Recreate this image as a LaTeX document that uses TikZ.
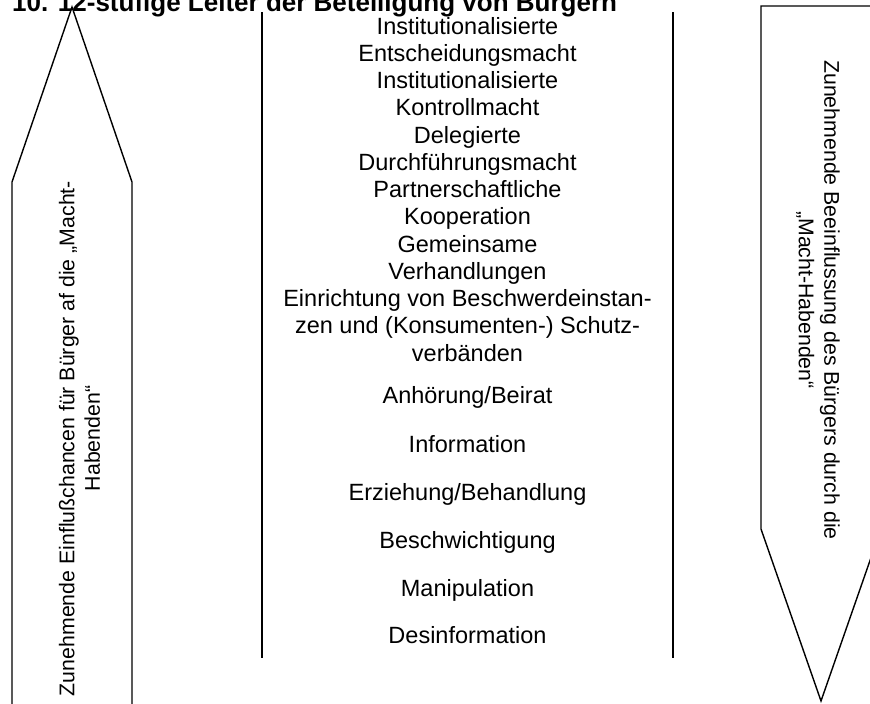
\documentclass[tikz,border=0pt]{standalone}
\usepackage{fontspec}
\setmainfont{Liberation Sans}
\begin{document}
\begin{tikzpicture}[x=1pt,y=-1pt,
  outline/.style={draw=black,line width=1.4pt,line join=miter},
  divider/.style={draw=black,line width=2pt},
  rung/.style={anchor=north,align=center,inner sep=0pt,
    font=\fontsize{23.5}{27.25}\selectfont,execute at begin node=\strut},
  sidetext/.style={align=center,inner sep=0pt,font=\fontsize{21.3}{25.5}\selectfont},
  heading/.style={anchor=base west,inner sep=0pt,font=\fontsize{26}{30}\selectfont\bfseries}]
\useasboundingbox (0,0) rectangle (870,704);
\clip (0,0) rectangle (870,704);
\fill[white] (0,0) rectangle (870,704);

% heading
\node[heading] (title) at (12,12) {10. 12-stufige Leiter der Beteiligung von Bürgern};

% upward arrow on the left
\coordinate (lbl) at (12,712);
\coordinate (lsl) at (12,182);
\coordinate (ltip) at (72,7);
\coordinate (lsr) at (132,182);
\coordinate (lbr) at (132,712);
\draw[outline] (lbl) -- (lsl) -- (ltip) -- (lsr) -- (lbr);
\node[sidetext,rotate=90] (uptext) at (79.5,438.5)
  {Zunehmende Einflußchancen für Bürger af die „Macht-\\Habenden“};

% downward arrow on the right
\coordinate (rtr) at (881,6);
\coordinate (rtl) at (761,6);
\coordinate (rsl) at (761,529);
\coordinate (rtip) at (821,701);
\coordinate (rsr) at (881,529);
\draw[outline] (rtr) -- (rtl) -- (rsl) -- (rtip) -- (rsr) -- cycle;
\node[sidetext,rotate=-90] (downtext) at (818,300)
  {Zunehmende Beeinflussung des Bürgers durch die\\„Macht-Habenden“};

% ladder frame
\coordinate (d1t) at (262,12);
\coordinate (d1b) at (262,658);
\coordinate (d2t) at (673,12);
\coordinate (d2b) at (673,658);
\draw[divider] (d1t) -- (d1b);
\draw[divider] (d2t) -- (d2b);

% rungs of the ladder, top to bottom (node top = first baseline - strut height)
\node[rung] (r12) at (467.5,16.9) {Institutionalisierte\\Entscheidungsmacht};
\node[rung] (r11) at (467.5,71.4) {Institutionalisierte\\Kontrollmacht};
\node[rung] (r10) at (467.5,125.9) {Delegierte\\Durchführungsmacht};
\node[rung] (r9) at (467.5,180.4) {Partnerschaftliche\\Kooperation};
\node[rung] (r8) at (467.5,234.9) {Gemeinsame\\Verhandlungen};
\node[rung] (r7) at (467.5,289.4) {Einrichtung von Beschwerdeinstan-\\zen und (Konsumenten-) Schutz-\\verbänden};
\node[rung] (r6) at (467.5,383.9) {Anhörung/Beirat};
\node[rung] (r5) at (467.5,432.9) {Information};
\node[rung] (r4) at (467.5,480.9) {Erziehung/Behandlung};
\node[rung] (r3) at (467.5,528.9) {Beschwichtigung};
\node[rung] (r2) at (467.5,576.9) {Manipulation};
\node[rung] (r1) at (467.5,623.9) {Desinformation};
\end{tikzpicture}
\end{document}
